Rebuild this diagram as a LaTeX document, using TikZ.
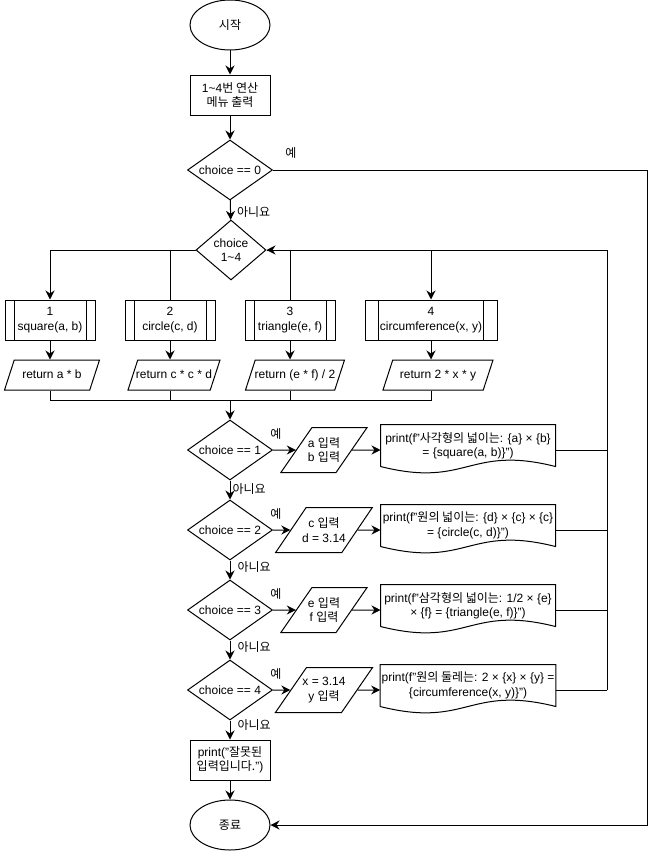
\documentclass[tikz,border=0pt]{standalone}
\usepackage{fontspec}
\setmainfont{Liberation Sans}
\newfontfamily\krfont{Noto Sans CJK KR}
\newcommand{\ko}[1]{{\krfont #1}}
\usetikzlibrary{arrows.meta,positioning,calc,shapes.geometric}

\begin{document}
\begin{tikzpicture}[x=1pt,y=-1pt,line width=1pt,font=\fontsize{12}{14.5}\selectfont,
    term/.style={draw,ellipse,minimum width=80pt,minimum height=50pt,inner sep=0pt},
    proc/.style={draw,minimum width=80pt,minimum height=40pt,align=center,inner sep=1pt},
    dec/.style={draw,diamond,shape aspect=2,minimum width=85pt,minimum height=60pt,inner sep=0pt,align=center},
    sub/.style={draw,minimum width=90pt,minimum height=40pt,align=center,inner sep=1pt,
      path picture={\draw ($(path picture bounding box.north west)!0.1!(path picture bounding box.north east)$) -- ($(path picture bounding box.south west)!0.1!(path picture bounding box.south east)$);
        \draw ($(path picture bounding box.north east)!0.1!(path picture bounding box.north west)$) -- ($(path picture bounding box.south east)!0.1!(path picture bounding box.south west)$);}},
    io/.style={draw,trapezium,trapezium left angle=72,trapezium right angle=108,trapezium stretches body,
      text height=9pt,text depth=3pt,minimum height=30pt,inner xsep=-2pt,inner ysep=9pt,align=center},
    inp/.style={draw,trapezium,trapezium left angle=55,trapezium right angle=125,trapezium stretches body,
      minimum width=78pt,minimum height=45pt,inner xsep=-4pt,inner ysep=9.5pt,align=center},
    doc/.style={minimum width=174pt,minimum height=41pt,inner sep=1pt,align=center},
    lbl/.style={inner sep=1pt},
    a/.style={-{Stealth[length=9pt,width=9pt,inset=3pt]}}]
  \useasboundingbox[fill=white] (0,0) rectangle (659,851);
  % start and menu
  \node[term] (st) at (230,25) {\ko{시작}};
  \node[proc] (menu) at (230,95) {1\textasciitilde4\ko{번 연산}\\\ko{메뉴 출력}};
  \node[dec] (c0) at (230,170) {choice == 0};
  \node[dec,shape aspect=1,minimum width=70pt] (c14) at (231,250) {choice\\1\textasciitilde4};
  % functions
  \node[sub] (s1) at (50,320) {1\\square(a, b)};
  \node[sub] (s2) at (170,320) {2\\circle(c, d)};
  \node[sub] (s3) at (290,320) {3\\triangle(e, f)};
  \node[sub,minimum width=132pt] (s4) at (431,320) {4\\circumference(x, y)};
  \node[io,minimum width=95pt] (r1) at (52,375) {return a * b};
  \node[io,minimum width=92pt] (r2) at (174,375) {return c * c * d};
  \node[io,minimum width=99pt] (r3) at (295,375) {return (e * f) / 2};
  \node[io,minimum width=110pt] (r4) at (438,375) {return 2 * x * y};
  \coordinate (j) at (230,400);
  \coordinate (rt) at (607,250);
  \coordinate (rx) at (647,170);
  % choices
  \node[dec] (c1) at (230,450) {choice == 1};
  \node[dec] (c2) at (230,530) {choice == 2};
  \node[dec] (c3) at (230,610) {choice == 3};
  \node[dec] (c4) at (230,690) {choice == 4};
  \node[inp] (i1) at (324,450) {a \ko{입력}\\b \ko{입력}};
  \node[inp] (i2) at (324,530) {c \ko{입력}\\d = 3.14};
  \node[inp] (i3) at (324,610) {e \ko{입력}\\f \ko{입력}};
  \node[inp] (i4) at (324,690) {x = 3.14\\y \ko{입력}};
  \node[doc] (d1) at (468,445.5) {print(f"\ko{사각형의 넓이는}: \{a\} × \{b\}\\= \{square(a, b)\}")};
  \node[doc] (d2) at (468,525.5) {print(f"\ko{원의 넓이는}: \{d\} × \{c\} × \{c\}\\= \{circle(c, d)\}")};
  \node[doc] (d3) at (468,605.5) {print(f"\ko{삼각형의 넓이는}: 1/2 × \{e\}\\× \{f\} = \{triangle(e, f)\}")};
  \node[doc] (d4) at (468,685.5) {print(f"\ko{원의 둘레는}: 2 × \{x\} × \{y\} =\\\{circumference(x, y)\}")};
  \foreach \d in {d1,d2,d3,d4}
    \draw (\d.south west) -- (\d.north west) -- (\d.north east) -- (\d.south east)
      .. controls ($(\d.south)+(0,-22)$) and ($(\d.south)+(0,22)$) .. (\d.south west);
  \node[proc] (err) at (230,760) {print("\ko{잘못된}\\\ko{입력입니다.}")};
  \node[term] (en) at (230,825) {\ko{종료}};
  % labels
  \node[lbl] (y0) at (291,153) {\ko{예}};
  \node[lbl] (y1) at (276,434) {\ko{예}};
  \node[lbl] (y2) at (276,514) {\ko{예}};
  \node[lbl] (y3) at (276,594) {\ko{예}};
  \node[lbl] (y4) at (276,674) {\ko{예}};
  % connectors
  \draw[a] (st)--(menu); \draw[a] (menu)--(c0);
  \draw[a] (c0)-- node[lbl,right=5pt,pos=0.6] (n0) {\ko{아니요}} (c14);
  \draw[a] (c0)--(rx) |- (en);
  \draw[a] (c14.west) -| (s1.north); \draw (c14.west) -| (s2.north);
  \draw (c14.east) -| (s3.north); \draw[a] (c14.east) -| (s4.north);
  \foreach \k in {1,2,3,4} {
    \draw[a] (s\k.south) -- (s\k.south |- r\k.north);
    \draw (r\k.south -| s\k) |- (j);
  }
  \draw[a] (j)--(c1);
  \draw[a] (c1)-- node[lbl,right=1pt,pos=0.45] (n1) {\ko{아니요}} (c2);
  \draw[a] (c2)-- node[lbl,right=6pt,pos=0.35] (n2) {\ko{아니요}} (c3);
  \draw[a] (c3)-- node[lbl,right=6pt,pos=0.35] (n3) {\ko{아니요}} (c4);
  \draw[a] (c4)-- node[lbl,right=6pt,pos=0.25] (n4) {\ko{아니요}} (err);
  \draw[a] (err)--(en);
  \foreach \k in {1,2,3,4} {
    \draw[a] (c\k)--(i\k); \draw[a] (i\k)--(i\k -| d\k.west);
    \draw (d\k.east |- c\k)--(c\k -| rt);
  }
  \draw[a] (c4 -| rt)--(rt)--(c14);
\end{tikzpicture}
\end{document}
